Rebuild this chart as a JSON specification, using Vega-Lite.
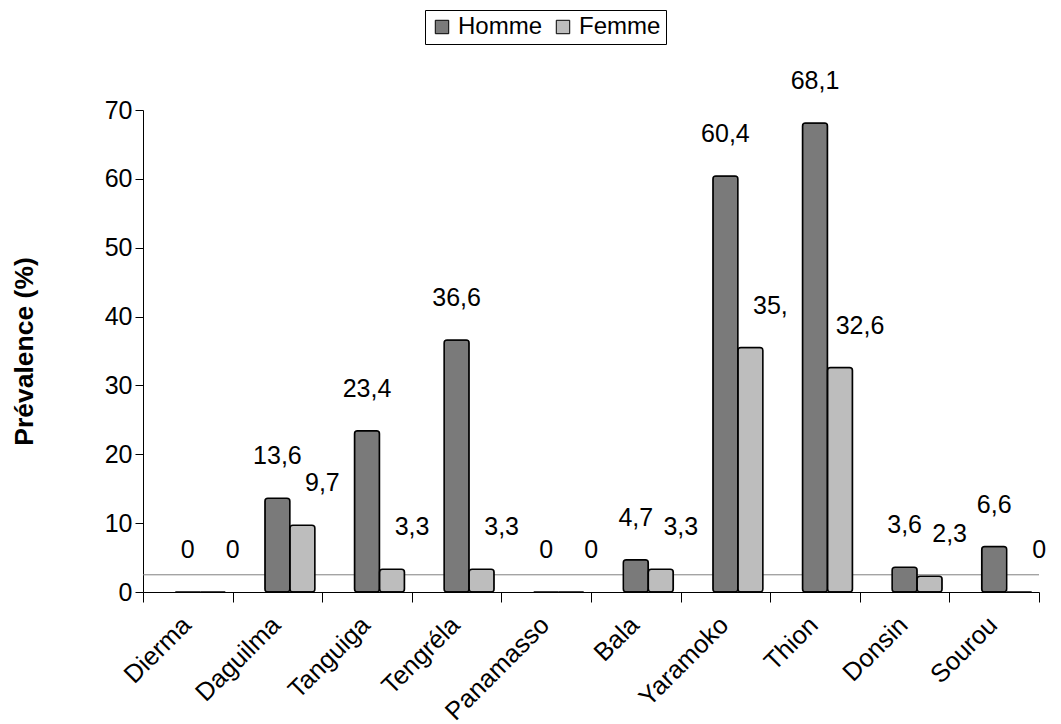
{
  "$schema": "https://vega.github.io/schema/vega-lite/v6.json",
  "width": 896,
  "height": 482,
  "autosize": {"type": "none"},
  "padding": {"left": 143, "top": 110, "right": 22, "bottom": 132},
  "background": "white",
  "config": {
    "font": "Liberation Sans",
    "view": {"stroke": null}
  },
  "datasets": {
    "prev": [
      {"site": "Dierma", "sexe": "Homme", "valeur": 0, "label": "0"},
      {"site": "Dierma", "sexe": "Femme", "valeur": 0, "label": "0"},
      {"site": "Daguilma", "sexe": "Homme", "valeur": 13.6, "label": "13,6"},
      {"site": "Daguilma", "sexe": "Femme", "valeur": 9.7, "label": "9,7"},
      {"site": "Tanguiga", "sexe": "Homme", "valeur": 23.4, "label": "23,4"},
      {"site": "Tanguiga", "sexe": "Femme", "valeur": 3.3, "label": "3,3"},
      {"site": "Tengréla", "sexe": "Homme", "valeur": 36.6, "label": "36,6"},
      {"site": "Tengréla", "sexe": "Femme", "valeur": 3.3, "label": "3,3"},
      {"site": "Panamasso", "sexe": "Homme", "valeur": 0, "label": "0"},
      {"site": "Panamasso", "sexe": "Femme", "valeur": 0, "label": "0"},
      {"site": "Bala", "sexe": "Homme", "valeur": 4.7, "label": "4,7"},
      {"site": "Bala", "sexe": "Femme", "valeur": 3.3, "label": "3,3"},
      {"site": "Yaramoko", "sexe": "Homme", "valeur": 60.4, "label": "60,4"},
      {"site": "Yaramoko", "sexe": "Femme", "valeur": 35.5, "label": "35,"},
      {"site": "Thion", "sexe": "Homme", "valeur": 68.1, "label": "68,1"},
      {"site": "Thion", "sexe": "Femme", "valeur": 32.6, "label": "32,6"},
      {"site": "Donsin", "sexe": "Homme", "valeur": 3.6, "label": "3,6"},
      {"site": "Donsin", "sexe": "Femme", "valeur": 2.3, "label": "2,3"},
      {"site": "Sourou", "sexe": "Homme", "valeur": 6.6, "label": "6,6"},
      {"site": "Sourou", "sexe": "Femme", "valeur": 0, "label": "0"}
    ]
  },
  "data": {"name": "prev"},
  "layer": [
    {
      "data": {"values": [{"floor": 2.5}]},
      "mark": {"type": "rule", "color": "#808080", "strokeWidth": 1},
      "encoding": {
        "y": {"field": "floor", "type": "quantitative"}
      }
    },
    {
      "transform": [{"filter": "datum.sexe === 'Homme'"}],
      "mark": {"type": "text", "fontSize": 25, "color": "black", "dy": -42, "align": "center", "baseline": "middle"},
      "encoding": {
        "x": {"field": "site", "type": "nominal", "sort": ["Dierma", "Daguilma", "Tanguiga", "Tengréla", "Panamasso", "Bala", "Yaramoko", "Thion", "Donsin", "Sourou"]},
        "y": {"field": "valeur", "type": "quantitative"},
        "text": {"field": "label"}
      }
    },
    {
      "transform": [{"filter": "datum.sexe === 'Femme'"}],
      "mark": {"type": "text", "fontSize": 25, "color": "black", "dy": -42, "dx": 45, "align": "center", "baseline": "middle"},
      "encoding": {
        "x": {"field": "site", "type": "nominal", "sort": ["Dierma", "Daguilma", "Tanguiga", "Tengréla", "Panamasso", "Bala", "Yaramoko", "Thion", "Donsin", "Sourou"]},
        "y": {"field": "valeur", "type": "quantitative"},
        "text": {"field": "label"}
      }
    },
    {
      "transform": [{"filter": "datum.sexe === 'Homme'"}],
      "mark": {"type": "bar", "width": 25, "xOffset": 0, "stroke": "black", "strokeWidth": 1.5, "cornerRadius": 3},
      "encoding": {
        "x": {
          "field": "site",
          "type": "nominal",
          "sort": ["Dierma", "Daguilma", "Tanguiga", "Tengréla", "Panamasso", "Bala", "Yaramoko", "Thion", "Donsin", "Sourou"],
          "scale": {"paddingInner": 0, "paddingOuter": 0},
          "axis": {
            "title": null,
            "domain": true,
            "domainColor": "black",
            "domainWidth": 1,
            "ticks": true,
            "tickBand": "extent",
            "tickColor": "black",
            "tickSize": 10,
            "labelAngle": -45,
            "labelAlign": "right",
            "labelBaseline": "top",
            "labelFontSize": 25.5,
            "labelColor": "black",
            "labelPadding": 10,
            "labelOffset": -10
          }
        },
        "y": {
          "field": "valeur",
          "type": "quantitative",
          "scale": {"domain": [0, 70], "nice": false, "zero": true},
          "axis": {
            "values": [0, 10, 20, 30, 40, 50, 60, 70],
            "grid": false,
            "domain": true,
            "domainColor": "black",
            "tickColor": "black",
            "tickSize": 8,
            "labelFontSize": 25,
            "labelColor": "black",
            "labelPadding": 3,
            "title": "Prévalence (%)",
            "titleFontSize": 26.5,
            "titleFontWeight": "bold",
            "titleColor": "black",
            "titlePadding": 66
          }
        },
        "color": {
          "field": "sexe",
          "type": "nominal",
          "scale": {"domain": ["Homme", "Femme"], "range": ["#7a7a7a", "#bdbdbd"]},
          "legend": {
            "orient": "none",
            "legendX": 282,
            "legendY": -100,
            "direction": "horizontal",
            "title": null,
            "strokeColor": "black",
            "padding": 5,
            "symbolType": "square",
            "symbolSize": 180,
            "symbolStrokeColor": "black",
            "symbolStrokeWidth": 1,
            "symbolOpacity": 1,
            "labelFontSize": 24,
            "labelColor": "black",
            "labelOffset": 4,
            "columnPadding": 8
          }
        }
      }
    },
    {
      "transform": [{"filter": "datum.sexe === 'Femme'"}],
      "mark": {"type": "bar", "width": 25, "xOffset": 25, "stroke": "black", "strokeWidth": 1.5, "cornerRadius": 3},
      "encoding": {
        "x": {"field": "site", "type": "nominal", "sort": ["Dierma", "Daguilma", "Tanguiga", "Tengréla", "Panamasso", "Bala", "Yaramoko", "Thion", "Donsin", "Sourou"]},
        "y": {"field": "valeur", "type": "quantitative"},
        "color": {"field": "sexe", "type": "nominal"}
      }
    }
  ]
}
